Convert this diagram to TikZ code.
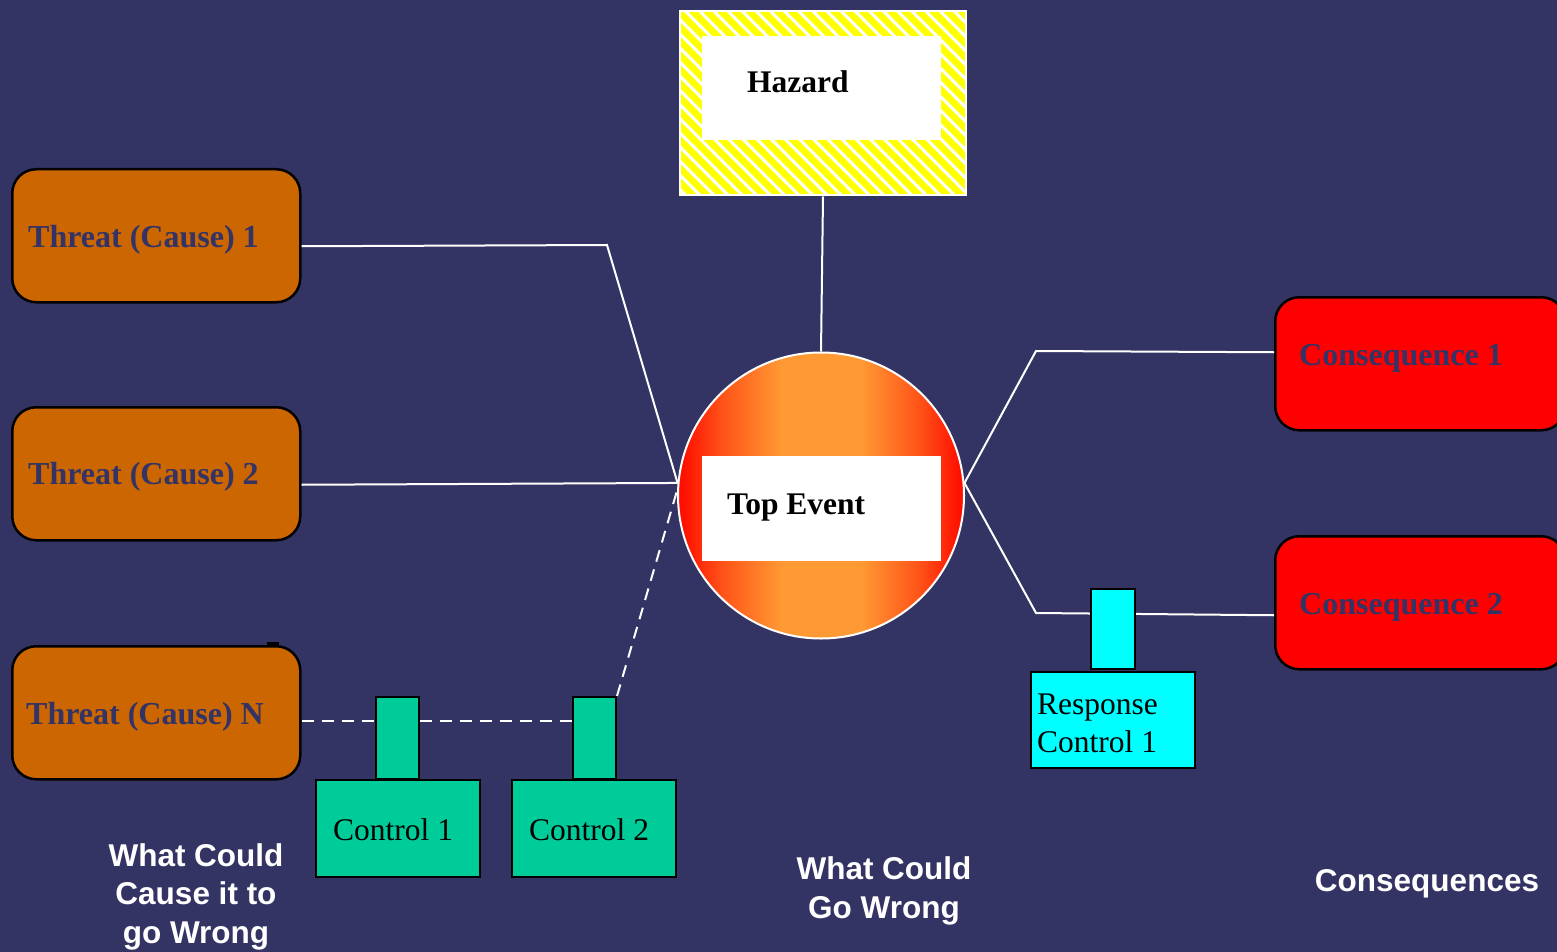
\documentclass[tikz,border=0pt]{standalone}
\usepackage{fontspec}
\setmainfont{Liberation Serif}
\newfontfamily\labelfont{Liberation Sans}
\usetikzlibrary{patterns.meta}
\definecolor{bg}{RGB}{52,52,100}
\definecolor{threatfill}{RGB}{204,102,0}
\definecolor{ctrlfill}{RGB}{0,204,153}
\definecolor{respfill}{RGB}{0,255,255}
\definecolor{hazyellow}{RGB}{255,255,0}
\definecolor{navytext}{RGB}{51,51,102}
\definecolor{topred}{RGB}{255,17,0}
\definecolor{topmid}{RGB}{255,85,25}
\definecolor{toporange}{RGB}{255,153,51}
\definecolor{conred}{RGB}{255,0,0}
\pgfdeclarehorizontalshading{topshade}{100bp}{color(0bp)=(topred); color(26bp)=(topred); color(33bp)=(topmid); color(43bp)=(toporange); color(57bp)=(toporange); color(67bp)=(topmid); color(74bp)=(topred); color(100bp)=(topred)}
\tikzset{
  rbox/.style={draw=black, line width=2.5pt, rounded corners=24pt, anchor=north west, inner sep=0pt},
  threatbox/.style={rbox, fill=threatfill, minimum width=288pt, minimum height=133pt},
  consbox/.style={rbox, fill=conred, minimum width=290pt, minimum height=133pt},
  boxtext/.style={font=\fontsize{32}{38.5}\selectfont\bfseries, text=navytext, anchor=base west, inner sep=0pt},
  plaintext/.style={font=\fontsize{31.5}{38.5}\selectfont, text=black, anchor=base west, inner sep=0pt},
  boldtext/.style={font=\fontsize{31.5}{38.5}\selectfont\bfseries, text=black, anchor=base west, inner sep=0pt},
  stem/.style={draw=black, line width=2pt, anchor=north west, inner sep=0pt, minimum width=43pt, minimum height=82pt},
  ctrlbox/.style={draw=black, line width=2pt, anchor=north west, inner sep=0pt, minimum width=164pt, minimum height=97pt},
  conn/.style={draw=white, line width=2pt},
  dashconn/.style={draw=white, line width=2pt, dash pattern=on 12pt off 8pt},
  whitebox/.style={fill=white, draw=none, anchor=north west, inner sep=0pt},
  caption/.style={font=\labelfont\fontsize{31.5}{38.5}\selectfont\bfseries, text=white, align=center, inner sep=0pt, anchor=base}
}
\begin{document}
\begin{tikzpicture}[x=1pt,y=-1pt]
\fill[bg] (0,0) rectangle (1557,952);
\useasboundingbox (0,0) rectangle (1557,952);
\clip (0,0) rectangle (1557,952);

% Hazard
\node[anchor=north west, inner sep=0pt, minimum width=286pt, minimum height=184pt, draw=white, line width=1.5pt,
      preaction={fill=hazyellow}, pattern={Lines[angle=-45,distance=10pt,line width=3pt]}, pattern color=white] (haz) at (678.5,9.5) {};
\node[whitebox, minimum width=239pt, minimum height=104pt] (hazin) at (702,36) {};
\node[boldtext] (haztxt) at (747,93) {Hazard};

% Top event
\node[circle, draw=white, line width=2pt, minimum size=286pt, inner sep=0pt, shading=topshade] (top) at (821,495.5) {};
\node[whitebox, minimum width=239pt, minimum height=105pt] (topin) at (702,456) {};
\node[boldtext] (toptxt) at (727,514) {Top Event};

% Threats
\node[threatbox] (t1) at (11,168) {};
\node[threatbox] (t2) at (11,406) {};
\node[threatbox] (tN) at (11,645) {};
\node[fill=black, inner sep=0pt, minimum width=12pt, minimum height=5pt, anchor=north west] (mark) at (267,642) {};
\node[boxtext] (t1txt) at (28,247) {Threat (Cause) 1};
\node[boxtext] (t2txt) at (28,484) {Threat (Cause) 2};
\node[boxtext] (tNtxt) at (26,724) {Threat (Cause) N};

% Consequences
\node[consbox] (c1) at (1274,296) {};
\node[consbox] (c2) at (1274,535) {};
\node[boxtext] (c1txt) at (1299,365) {Consequence 1};
\node[boxtext] (c2txt) at (1299,614) {Consequence 2};

% Connectors
\coordinate (b1) at (607,245);
\coordinate (b2) at (1036,351);
\coordinate (b3) at (1036,613);
\draw[conn] (haz.south) -- (top.north);
\draw[conn] ([yshift=-10.5pt]t1.east) -- (b1) -- (top.175);
\draw[conn] ([yshift=-11pt]t2.east) -- (top.175);
\draw[conn] (top.5) -- (b2) -- ([yshift=11.5pt]c1.west);
\draw[conn] (top.5) -- (b3) -- ([yshift=-12.5pt]c2.west);

% Controls
\coordinate (tNe) at ([yshift=-8pt]tN.east);
\node[stem, fill=ctrlfill] (s1) at (375,696) {};
\node[stem, fill=ctrlfill] (s2) at (572,696) {};
\draw[dashconn] (tNe) -- (tNe -| s1.west);
\draw[dashconn] (tNe -| s1.east) -- (tNe -| s2.west);
\draw[dashconn] (s2.north east) -- (top.178);
\node[ctrlbox, fill=ctrlfill] (k1) at (315,779) {};
\node[ctrlbox, fill=ctrlfill] (k2) at (511,779) {};
\node[plaintext] (k1txt) at (333,840) {Control 1};
\node[plaintext] (k2txt) at (529,840) {Control 2};

% Response control
\node[stem, fill=respfill, minimum height=80pt, minimum width=44pt] (rs) at (1090,588) {};
\node[ctrlbox, fill=respfill, minimum height=96pt] (rk) at (1030,671) {};
\node[plaintext] (rk1) at (1037,714) {Response};
\node[plaintext] (rk2) at (1037,752) {Control 1};

% Captions
\node[caption] (cap1) at (196,943) {What Could\\Cause it to\\go Wrong};
\node[caption] (cap2) at (884,918) {What Could\\Go Wrong};
\node[caption] (cap3) at (1427,891) {Consequences};
\end{tikzpicture}
\end{document}
